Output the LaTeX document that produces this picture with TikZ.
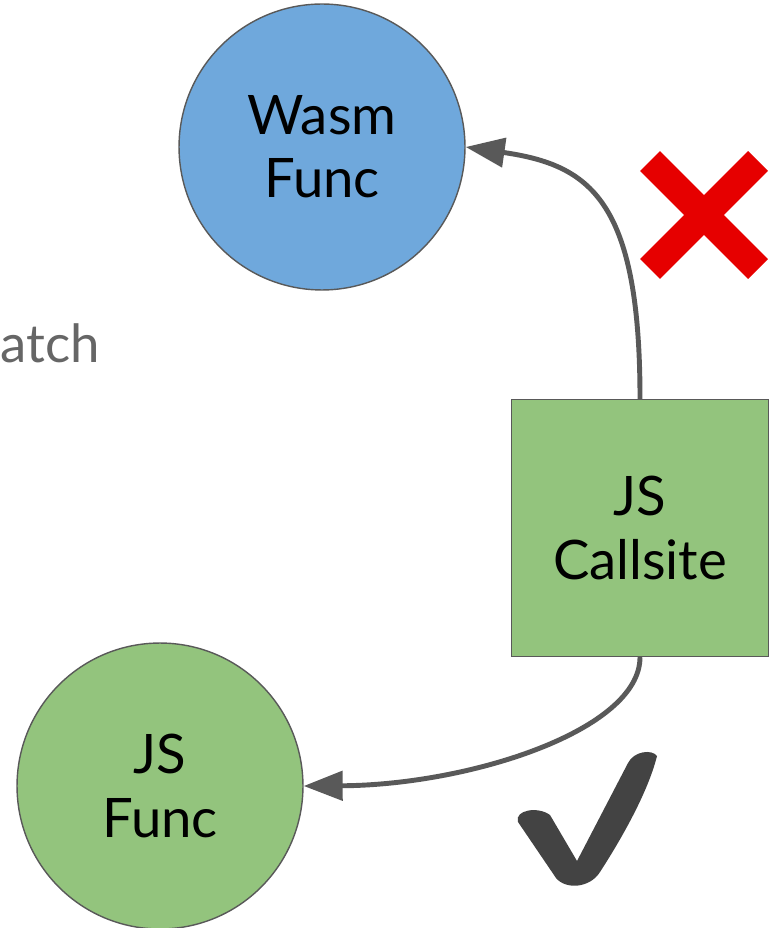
\documentclass[tikz,border=0pt]{standalone}
\usepackage{fontspec}
\setmainfont{Lato}
\usepackage{xcolor}
\usepackage{tikz}
\usetikzlibrary{arrows.meta}
\definecolor{wasmblue}{HTML}{6FA8DC}
\definecolor{jsgreen}{HTML}{93C47D}
\definecolor{edgegray}{HTML}{595959}
\definecolor{crossred}{HTML}{E60000}
\definecolor{tickgray}{HTML}{434343}
\definecolor{notegray}{HTML}{666666}

\begin{document}
\begin{tikzpicture}[x=0.02cm,y=-0.02cm,
    func node/.style={circle,draw=edgegray,line width=0.8pt,minimum size=5.72cm,inner sep=0pt,
                      align=center,font=\fontsize{31}{36}\selectfont},
    site node/.style={rectangle,draw=edgegray,line width=0.8pt,fill=jsgreen,minimum size=5.14cm,
                      inner sep=0pt,align=center,font=\fontsize{31}{36}\selectfont},
    call/.style={draw=edgegray,line width=2.8pt,-{Triangle[length=0.78cm,width=0.58cm]}}]
      \useasboundingbox (0,0) rectangle (772,928);

      \node[func node,fill=wasmblue] (wasm) at (322,147) {Wasm\\Func};
      \node[func node,fill=jsgreen] (jsfunc) at (160,786) {JS\\Func};
      \node[site node] (site) at (640,528) {JS\\Callsite};
      \node[anchor=base west,inner sep=0pt,text=notegray,font=\fontsize{30}{36}\selectfont] (note) at (0,363) {atch};

      \draw[call] (site.north) .. controls (640,200) and (590,165) .. (wasm.east);
      \draw[call] (site.south) .. controls (640,730) and (470,785) .. (jsfunc.east);

      % wrong call
      \draw[crossred,line width=0.56cm] (650,161) -- (758,269);
      \draw[crossred,line width=0.56cm] (758,161) -- (650,269);
      % right call
      \fill[tickgray] (518,822) .. controls (514,810) and (538,806) .. (550,815) -- (577,861)
        -- (628,763) .. controls (634,751) and (652,749) .. (657,756)
        .. controls (648,792) and (622,838) .. (600,872)
        .. controls (590,888) and (566,890) .. (556,878) -- cycle;
\end{tikzpicture}
\end{document}
